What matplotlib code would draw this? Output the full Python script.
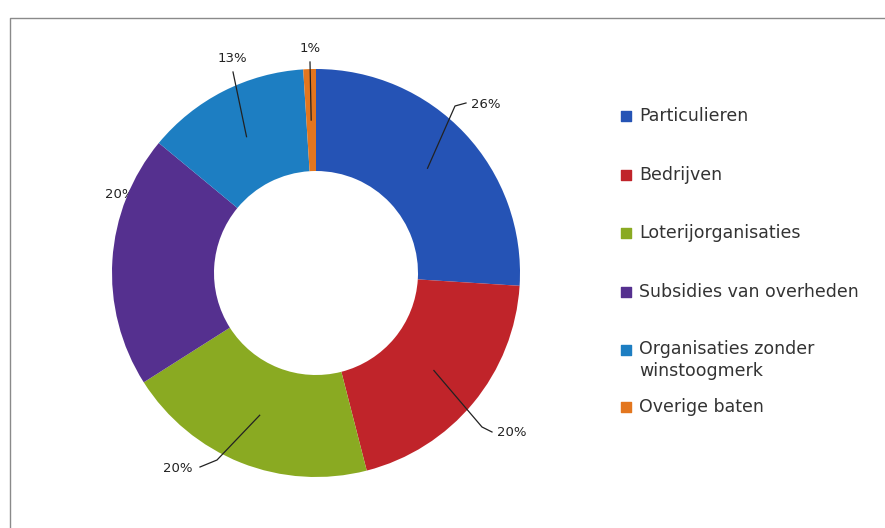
import matplotlib
matplotlib.use('Agg')
import matplotlib.pyplot as plt
import numpy as np

plt.rcParams.update({
    'font.family': 'DejaVu Sans',
})

categories = ['Particulieren', 'Bedrijven', 'Loterijorganisaties',
              'Subsidies van overheden', 'Organisaties zonder\nwinstoogmerk',
              'Overige baten']
shares = [26, 20, 20, 20, 13, 1]
colors = ['#2553b5', '#c0242a', '#8aaa22', '#55308f', '#1d7ec2', '#e3761e']

W, H = 885, 528


def px(x, y):
    # pixel position (origin top-left) -> data coords
    return x, H - y


fig = plt.figure(figsize=(W / 100, H / 100), dpi=100)
ax = fig.add_axes([0, 0, 1, 1])

cx, cy = px(316, 273)
R = 204
wedges, _ = ax.pie(shares, colors=colors, startangle=90, counterclock=False,
                   radius=R, center=(cx, cy), frame=True,
                   wedgeprops=dict(width=R * 0.5, edgecolor='none'))
for w in wedges:
    w.set_zorder(3)

# data labels: (elbow px, end px, text px, ha)
label_layout = [
    ((455, 106), (466, 103), (471, 104), 'left'),
    ((482, 427), (492, 432), (497, 433), 'left'),
    ((217, 460), (200, 467), (192, 468), 'right'),
    (None, None, (105, 195), 'left'),
    (None, (233, 72), (232, 59), 'center'),
    (None, (310, 62), (310, 48), 'center'),
]

for w, v, (elb, end, tpos, ha) in zip(wedges, shares, label_layout):
    mid = np.deg2rad((w.theta1 + w.theta2) / 2)
    sx, sy = cx + 0.75 * R * np.cos(mid), cy + 0.75 * R * np.sin(mid)
    pts = [(sx, sy)]
    if elb is not None:
        pts.append(px(*elb))
    if end is not None:
        pts.append(px(*end))
    hidden = len(pts) == 1
    if not hidden:
        xs, ys = zip(*pts)
        ax.plot(xs, ys, color='#222222', lw=0.9, zorder=4)
    tx, ty = px(*tpos)
    ax.text(tx, ty, f'{v}%', ha=ha, va='center', fontsize=9.5,
            color='#222222', zorder=1 if hidden else 5)

# legend, drawn by hand to keep Excel's spacing
leg_y = [116, 175, 233, 292, 350, 407]
for lab, col, ly in zip(categories, colors, leg_y):
    mx, my = px(626, ly)
    ax.scatter([mx], [my], marker='s', s=42, color=col, zorder=5)
    if '\n' in lab:
        ax.text(639, my + 10, lab, ha='left', va='top', fontsize=12.5,
                color='#333333', linespacing=1.25)
    else:
        ax.text(639, my, lab, ha='left', va='center', fontsize=12.5,
                color='#333333')

# chart border
ax.plot([10, 10, W], [0, H - 18, H - 18], color='#8a8a8a', lw=1.0, zorder=6,
        clip_on=False)

ax.set_xlim(0, W)
ax.set_ylim(0, H)
ax.set_aspect('equal')
ax.axis('off')

fig.savefig('out.png', dpi=100)
plt.close()
